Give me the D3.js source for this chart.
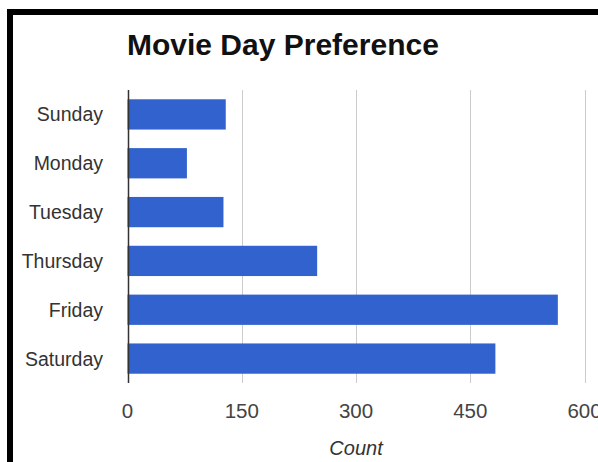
<!DOCTYPE html>
<html>
<head>
<meta charset="utf-8">
<script src="https://cdn.jsdelivr.net/npm/d3@7"></script>
<style>
  html, body { margin: 0; padding: 0; background: #fff; }
  svg { display: block; }
</style>
</head>
<body>
<div id="chart"></div>
<script>
// chart data
const days = ['Sunday', 'Monday', 'Tuesday', 'Thursday', 'Friday', 'Saturday'];
const counts = [129, 78, 126, 249, 565, 483];
const xTicks = [0, 150, 300, 450, 600];

const width = 598, height = 462;
const margin = { left: 127.5, right: 13.5, top: 90, bottom: 79 };
const font = '"Liberation Sans", Arial, Helvetica, sans-serif';

const svg = d3.select('#chart')
    .append('svg')
    .attr('width', width)
    .attr('height', height);

// frame (top and left black border)
svg.append('rect').attr('x', 7).attr('y', 9).attr('width', width - 7).attr('height', 6).attr('fill', '#000');
svg.append('rect').attr('x', 7).attr('y', 9).attr('width', 6).attr('height', height - 9).attr('fill', '#000');

const x = d3.scaleLinear()
    .domain([0, 600])
    .range([margin.left, width - margin.right]);

const y = d3.scaleBand()
    .domain(days)
    .range([margin.top, height - margin.bottom])
    .paddingInner(0.38)
    .paddingOuter(0.19);

// gridlines
svg.append('g')
    .selectAll('line')
    .data(xTicks.slice(1))
    .enter().append('line')
    .attr('x1', d => Math.round(x(d)) + 0.5)
    .attr('x2', d => Math.round(x(d)) + 0.5)
    .attr('y1', margin.top)
    .attr('y2', height - margin.bottom)
    .attr('stroke', '#cccccc')
    .attr('stroke-width', 1);

// bars
svg.append('g')
    .selectAll('rect')
    .data(days)
    .enter().append('rect')
    .attr('x', x(0))
    .attr('y', d => y(d))
    .attr('height', y.bandwidth())
    .attr('width', (d, i) => x(counts[i]) - x(0))
    .attr('fill', '#3162ce');

// zero baseline
svg.append('line')
    .attr('x1', Math.round(x(0)) + 0.5)
    .attr('x2', Math.round(x(0)) + 0.5)
    .attr('y1', margin.top)
    .attr('y2', height - margin.bottom)
    .attr('stroke', '#333')
    .attr('stroke-width', 1.5);

// y labels
svg.append('g')
    .selectAll('text')
    .data(days)
    .enter().append('text')
    .attr('x', 103)
    .attr('y', d => y(d) + y.bandwidth() / 2)
    .attr('dy', '0.36em')
    .attr('text-anchor', 'end')
    .attr('font-family', font)
    .attr('font-size', 19.5)
    .attr('fill', '#333')
    .text(d => d);

// x tick labels
svg.append('g')
    .selectAll('text')
    .data(xTicks)
    .enter().append('text')
    .attr('x', d => x(d))
    .attr('y', 418)
    .attr('text-anchor', 'middle')
    .attr('font-family', font)
    .attr('font-size', 20.5)
    .attr('fill', '#444')
    .text(d => d);

// axis title
svg.append('text')
    .attr('x', x(300))
    .attr('y', 455)
    .attr('text-anchor', 'middle')
    .attr('font-family', font)
    .attr('font-size', 20)
    .attr('font-style', 'italic')
    .attr('fill', '#333')
    .text('Count');

// title
svg.append('text')
    .attr('x', 127)
    .attr('y', 55)
    .attr('font-family', font)
    .attr('font-size', 30)
    .attr('font-weight', 'bold')
    .attr('fill', '#111')
    .text('Movie Day Preference');
</script>
</body>
</html>
